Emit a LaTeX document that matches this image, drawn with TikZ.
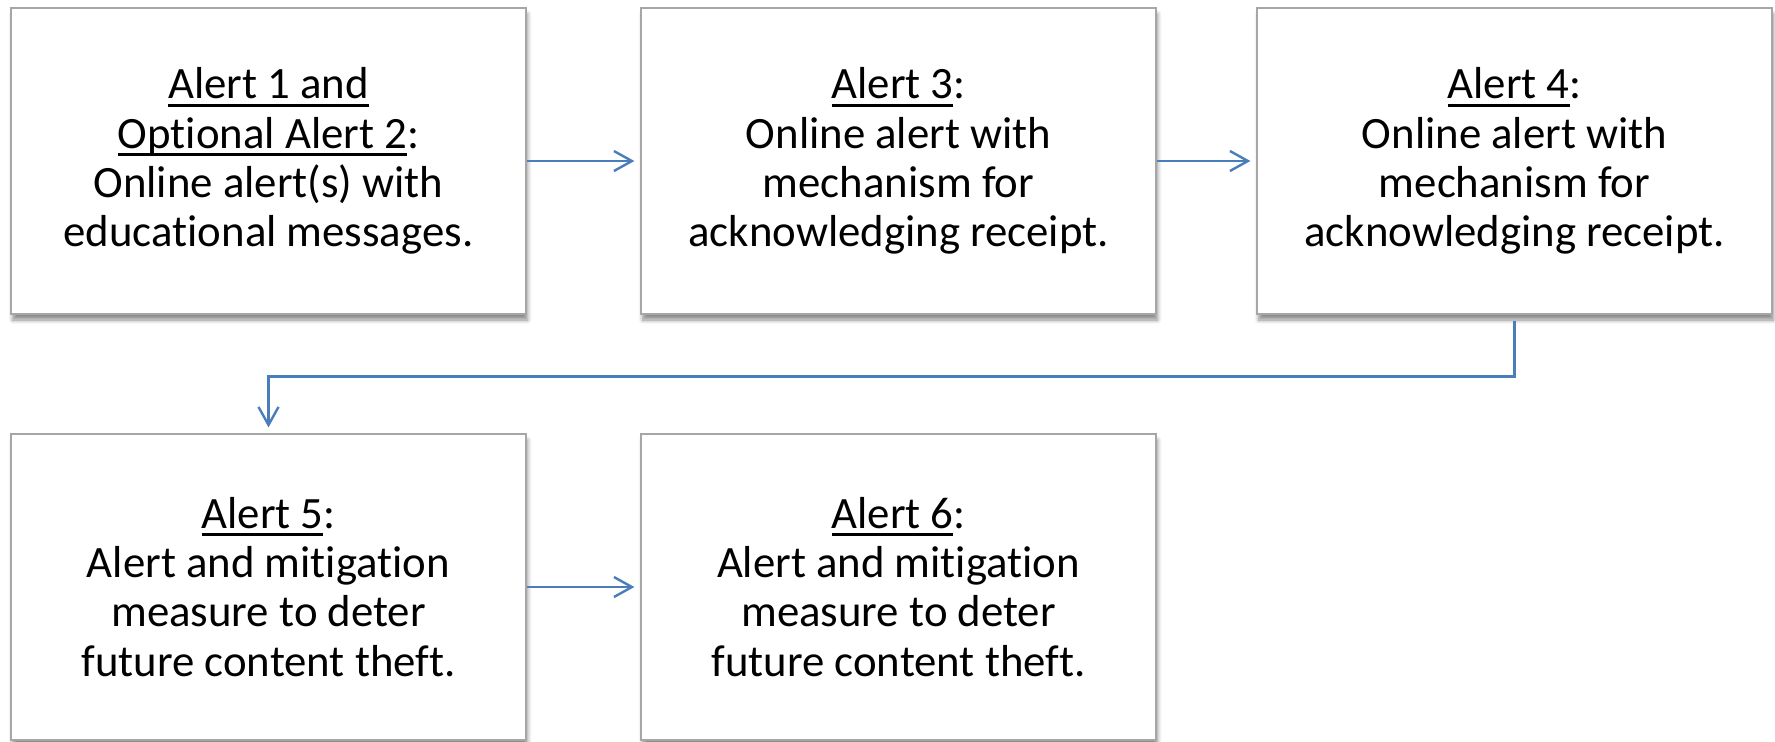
\documentclass[tikz,border=0pt]{standalone}
\usepackage{fontspec}
\setmainfont{Carlito}[RawFeature=-liga]
\usetikzlibrary{arrows.meta,shadows.blur}
\definecolor{arrowblue}{HTML}{4A7EBB}
\newcommand\myul[1]{\setbox0\hbox{#1}\leavevmode\rlap{\vrule height -2.3pt depth 3.9pt width \wd0}\box0}
\tikzset{
  alertbox/.style={draw=black!35, line width=0.6pt, fill=white,
    minimum width=257.5pt, minimum height=153pt, align=center,
    font=\fontsize{22.4}{24.6}\selectfont, inner sep=0pt,
    blur shadow={shadow xshift=0.8pt, shadow yshift=-3pt, shadow opacity=45, shadow blur steps=6, shadow blur radius=2pt}},
  flow/.style={draw=arrowblue, line width=1.2pt, -{Straight Barb[length=9pt,width=10pt,line width=1.2pt]}, shorten >=3pt}
}
\begin{document}
\begin{tikzpicture}[x=0.5pt,y=-0.5pt]
\useasboundingbox (0,0) rectangle (1775,741);
\node[alertbox] (b1) at (268.5,161) {\myul{Alert 1 and}\\\myul{Optional Alert 2}:\\Online alert(s) with\\educational messages.};
\node[alertbox] (b2) at (898.5,161) {\myul{Alert 3}:\\Online alert with\\mechanism for\\acknowledging receipt.};
\node[alertbox] (b3) at (1514.5,161) {\myul{Alert 4}:\\Online alert with\\mechanism for\\acknowledging receipt.};
\node[alertbox] (b4) at (268.5,587) {\myul{Alert 5}:\\Alert and mitigation\\measure to deter\\future content theft.};
\node[alertbox] (b5) at (898.5,587) {\myul{Alert 6}:\\Alert and mitigation\\measure to deter\\future content theft.};
\draw[flow] (b1.east) -- (b2.west);
\draw[flow] (b2.east) -- (b3.west);
\draw[flow] (b4.east) -- (b5.west);
\draw[flow, shorten <=3pt] (b3.south) -- ++(0,62) -| (b4.north);
\end{tikzpicture}
\end{document}
